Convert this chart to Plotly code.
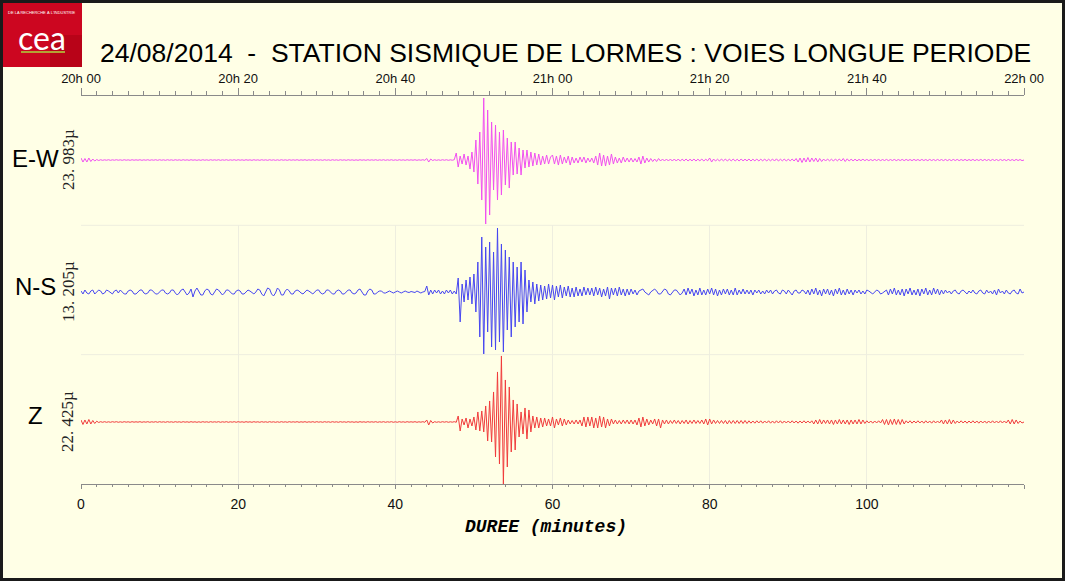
import numpy as np
import plotly.graph_objects as go
from plotly.subplots import make_subplots

# sampling of the long-period channels, in minutes after 20h00
SAMPLE_STEP_MIN = 0.25

# amplitudes (display units), one row = 5 minutes
ew_values = [
    2, -2, 1.5, -2, 2, -1.5, 1, -1, 0.5, -0.5, 0.3, -0.3, 0.2, -0.2, 0.3, -0.3, 0.2, -0.2, 0.3, -0.2,
    0.2, -0.3, 0.3, -0.2, 0.2, -0.3, 0.3, -0.2, 0.2, -0.2, 0.3, -0.3, 0.2, -0.2, 0.3, -0.3, 0.2, -0.2, 0.3, -0.3,
    0.3, -0.2, 0.2, -0.3, 0.3, -0.2, 0.2, -0.3, 0.3, -0.2, 0.2, -0.3, 0.3, -0.2, 0.2, -0.3, 0.3, -0.2, 0.2, -0.3,
    0.2, -0.3, 0.3, -0.2, 0.2, -0.3, 0.3, -0.2, 0.2, -0.2, 0.3, -0.3, 0.2, -0.2, 0.3, -0.3, 0.2, -0.2, 0.3, -0.3,
    0.3, -0.2, 0.2, -0.3, 0.3, -0.2, 0.2, -0.3, 0.3, -0.2, 0.2, -0.3, 0.3, -0.2, 0.2, -0.3, 0.3, -0.2, 0.2, -0.3,
    0.2, -0.3, 0.3, -0.2, 0.2, -0.3, 0.3, -0.2, 0.2, -0.2, 0.3, -0.3, 0.2, -0.2, 0.3, -0.3, 0.2, -0.2, 0.3, -0.3,
    0.3, -0.2, 0.2, -0.3, 0.3, -0.2, 0.2, -0.3, 0.3, -0.2, 0.2, -0.3, 0.3, -0.2, 0.2, -0.3, 0.3, -0.2, 0.2, -0.3,
    0.2, -0.3, 0.3, -0.2, 0.2, -0.3, 0.3, -0.2, 0.2, -0.2, 0.3, -0.3, 0.2, -0.2, 0.3, -0.3, 0.2, -0.2, 0.3, -0.3,
    0.2, -0.3, 0.3, -0.2, 0.2, -0.3, 0.3, -0.2, 0.2, -0.2, 0.3, -0.3, 0.2, -0.2, 0.3, -0.3, 1.5, -2, 1, -0.5,
    0.3, -0.3, 0.2, -0.3, 0.3, -0.2, 0.3, -0.3, 0.2, -0.2, 0.3, 7, -7, 4, -4, 6, -5, 4, -9, 8,
    -12, 20, -24, 28, -40, 62, -64, 50, -55, 38, -30, 35, -40, 28, -35, 30, -25, 22, -28, 18,
    -15, 18, -14, 12, -15, 10, -8, 10, -7, 8, -6, 7, -5, 6, -5, 4, -4, 5, -4, 3,
    5, -4, 4, -5, 5, -4, 3, -3, 4, -5, 3, -3, 2, -3, 3, -2, 3, -3, 2, -2,
    2, -3, 4, -5, 7, -6, 5, -6, 4, -5, 6, -4, 3, -3, 2, -3, 3, -2, 2, -2,
    2, -2, 1.5, -2, 3, -4, 4, -3, 2, -2, 1.5, -1.5, 1, -1.5, 1.5, -1, 1, -1, 1, -1,
    1, -1, 1, -1, 1, -1, 0.8, -0.8, 1, -1, 0.8, -0.8, 1, -1, 0.8, -0.8, 1, -1, 0.8, -0.8,
    2, -2, 1, -1, 0.8, -1, 1, -0.8, 1, -1, 0.8, -0.8, 1, -1, 0.8, -1, 1, -0.8, 0.8, -0.8,
    1, -1, 0.8, -0.8, 1, -1, 0.8, -0.8, 1, -1, 0.8, -0.8, 1, -1, 1.2, -1, 0.8, -0.8, 1, -1,
    0.8, -0.8, 1, -1, 1.5, -2, 2, -2.5, 2, -2, 2.5, -2, 2, -1.5, 2, -2, 1.5, -1.5, 1, -1,
    1, -0.8, 0.8, -1, 1, -0.8, 1, -1, 1.5, -1.5, 1.2, -1, 0.8, -0.8, 0.8, -0.8, 0.6, -0.6, 0.8, -0.6,
    0.6, -0.6, 0.5, -0.6, 0.6, -0.5, 0.6, -0.6, 0.5, -0.5, 0.6, -0.6, 0.5, -0.5, 0.6, -0.6, 0.5, -0.5, 0.6, -0.6,
    0.6, -0.5, 0.5, -0.6, 0.6, -0.5, 0.5, -0.6, 0.6, -0.5, 0.5, -0.6, 0.6, -0.5, 0.5, -0.6, 0.6, -0.5, 0.5, -0.6,
    0.6, -0.6, 0.5, -0.6, 0.6, -0.5, 0.6, -0.6, 0.5, -0.5, 0.6, -0.6, 0.5, -0.5, 0.6, -0.6, 0.5, -0.5, 0.6, -0.6,
    0.6, -0.5, 0.5, -0.6, 0.6, -0.5, 0.5, -0.6, 0.6, -0.5, 0.5, -0.6, 0.6, -0.5, 0.5, -0.6, 0.6, -0.5, 0.5, -0.6,
    0,
]

ns_values = [
    1, -2, 2, -1, -2, 1, 2, -2, 0, 2, 1, -2, -1, 2, 1, -1, -2, 1, 2, -1,
    2, 0, -2, -2, 1, 2, 1, -2, -2, 0, 2, 2, -1, -2, -1, 2, 2, 0, -2, -2,
    0, 2, 2, -1, -2, -1, 2, 2, -1, -3, -1, 2, 3, 0, -3, -1, 3, -5, 1, 4,
    1, -3, -3, 1, 3, 2, -2, -3, 0, 3, 2, -1, -3, -1, 2, 2, 0, -2, -2, 1,
    2, 1, -2, -2, 0, 2, 1, -1, -2, 0, 3, 2, -2, -4, 0, 4, 3, -2, -4, -1,
    4, 2, -3, -3, 1, 3, 1, -2, -2, 1, 2, 1, -1, -2, 0, 2, 1, -1, -2, 0,
    2, 2, -1, -2, -1, 2, 2, 0, -2, -2, 1, 2, 1, -2, -2, 0, 2, 2, -1, -2,
    -1, 2, 3, 0, -3, -3, 1, 3, 2, -2, -2, 0, 1, 1, -1, -1, 0, 1, 0, -1,
    0, 1, 0, -1, 0, 1, 0, -0.5, 0.5, 0, -0.5, 1, 0, -1, 0, 0.5, 6, -3, 2, -2,
    2, -1, 2, -2, 1, -2, 2, -1, 2, -2, 1, -2, 14, -30, 8, -10, 12, -8, 15, -12,
    18, -20, 30, -45, 55, -62, 45, -40, 50, -55, 40, -58, 64, -50, 48, -60, 42, -38, 35, -45,
    30, -35, 25, -30, 30, -32, 22, -20, 12, -10, 10, -12, 8, -9, 7, -8, 6, -7, 8, -6,
    7, -8, 6, -5, 7, -6, 5, -4, 6, -5, 4, -5, 5, -4, 3, -4, 5, -3, 4, -3,
    4, -4, 5, -3, 4, -5, 3, -4, 5, -7, 4, -3, 4, -4, 5, -3, 3, -4, 3, -3,
    3, -2, 2, -3, 1, 2, 3, 0, -2, -3, 0, 2, 3, 1, -2, -2, 1, 3, 2, -2,
    -3, 0, 2, 2, -1, -3, -1, 3, -3, 4, -2, 3, -4, 2, -3, 4, -3, 2, -3, 3,
    -2, 4, -3, 3, -4, 2, -3, 3, -2, 3, -3, 2, -3, 4, -3, 2, -2, 3, -2, 2,
    -2, 2, -3, 2, -1, 2, -2, 1, -2, 2, -1, 2, -2, 1, 2, -1, -2, 2, 1, -2,
    2, -1, -3, 1, 2, -1, -1, 2, 1, -2, 2, -3, 3, -2, 4, -3, 2, -4, 3, -2,
    3, -3, 2, -4, 3, -2, 4, -3, 2, -3, 3, -2, 2, -3, 2, -1, 2, -2, 1, -2,
    2, 1, -1, -2, 0, 2, 1, -2, -1, 1, 2, -3, 3, -2, 4, -3, 2, -3, 3, -4,
    3, -2, 4, -3, 2, -3, 3, -4, 3, -2, 4, -3, 2, -3, 4, -2, 3, -3, 2, -2,
    2, -1, 1, -2, 1, 2, -1, -2, 1, 2, 0, -2, 1, -1, 2, -1, -2, 1, 2, -1,
    -2, 2, -1, 1, -2, 2, -3, 3, -1, 1, -2, 2, -1, -2, 1, 2, -1, -2, 3, -1,
    0,
]

z_values = [
    2, -2.5, 2, -2, 2.5, -2, 1.5, -1.5, 0.8, -0.5, 0.3, -0.3, 0.3, -0.3, 0.2, -0.3, 0.3, -0.2, 0.3, -0.3,
    0.2, -0.3, 0.3, -0.2, 0.2, -0.3, 0.3, -0.2, 0.2, -0.2, 0.3, -0.3, 0.2, -0.2, 0.3, -0.3, 0.2, -0.2, 0.3, -0.3,
    0.3, -0.2, 0.2, -0.3, 0.3, -0.2, 0.2, -0.3, 0.3, -0.2, 0.2, -0.3, 0.3, -0.2, 0.2, -0.3, 0.3, -0.2, 0.2, -0.3,
    0.2, -0.3, 0.3, -0.2, 0.2, -0.3, 0.3, -0.2, 0.2, -0.2, 0.3, -0.3, 0.2, -0.2, 0.3, -0.3, 0.2, -0.2, 0.3, -0.3,
    0.3, -0.2, 0.2, -0.3, 0.3, -0.2, 0.2, -0.3, 0.3, -0.2, 0.2, -0.3, 0.3, -0.2, 0.2, -0.3, 0.3, -0.2, 0.2, -0.3,
    0.2, -0.3, 0.3, -0.2, 0.2, -0.3, 0.3, -0.2, 0.2, -0.2, 0.3, -0.3, 0.2, -0.2, 0.3, -0.3, 0.2, -0.2, 0.3, -0.3,
    0.3, -0.2, 0.2, -0.3, 0.3, -0.2, 0.2, -0.3, 0.3, -0.2, 0.2, -0.3, 0.3, -0.2, 0.2, -0.3, 0.3, -0.2, 0.2, -0.3,
    0.2, -0.3, 0.3, -0.2, 0.2, -0.3, 0.3, -0.2, 0.2, -0.2, 0.3, -0.3, 0.2, -0.2, 0.3, -0.3, 0.2, -0.2, 0.3, -0.3,
    0.2, -0.3, 0.3, -0.2, 0.2, -0.3, 0.3, -0.2, 0.2, -0.2, 0.3, -0.3, 0.2, -0.2, 0.3, -0.3, 2, -3, 1.5, -1,
    0.3, -0.3, 0.2, -0.3, 0.3, -0.2, 0.3, -0.3, 0.2, -0.2, 0.3, -0.3, 6, -9, 3, -3, 4, -6, 3, -4,
    5, -8, 10, -9, 11, -10, 16, -19, 21, -20, 30, -35, 50, -42, 66, -62, 42, -45, 35, -30,
    22, -28, 18, -15, 10, -12, 14, -17, 12, -10, 6, -6, 5, -6, 4, -5, 4, -4, 3, -4,
    5, -6, 3, -3, 4, -4, 3, -3, 2, -2, 1.5, -2, 2, -2, 2, -4, 5, -5, 5, -4,
    5, -6, 4, -6, 6, -5, 5, -6, 3, -4, 3, -2, 2, -2, 1.5, -2, 2, -1.5, 2, -2,
    2, -2, 2, -3, 4, -5, 5, -4, 3, -3, 2, -2, 3, -4, 3, -6, 2, -2, 2, -2,
    1.5, -1.5, 2, -1.5, 1.5, -2, 1.5, -1.5, 2, -2, 1.5, -1.5, 2, -1.5, 1.5, -1.5, 2, -2, 3, -3,
    3, -2, 2, -1.5, 1.5, -1.5, 1.5, -1.5, 1.5, -2, 1.5, -1.5, 1.5, -1.5, 1.5, -1.5, 1.5, -1.5, 1.5, -1.5,
    1.2, -1.2, 1, -1.2, 1.2, -1, 1.2, -1.2, 1, -1, 1.2, -1.2, 1, -1.2, 1.2, -1, 1.2, -1.2, 1, -1,
    1, -1, 1.2, -1, 1, -1.2, 1, -1, 1.2, -1, 1, -1, 1.2, -2, 2, -2, 2.5, -2, 2, -1.5,
    2, -2, 2, -2.5, 2, -2, 2.5, -2, 2, -2, 2, -2.5, 2, -2, 2, -2, 2.5, -2, 2, -1.5,
    1.2, -1, 1, -1.2, 1, -1, 1.2, -1, 2.5, -2.5, 2.5, -3, 2.5, -2.5, 3, -2.5, 2.5, -2.5, 2.5, -2,
    1.2, -1, 1.2, -1.2, 1, -1, 1.2, -1, 1, -1.2, 1.2, -1, 1, -1.2, 1.2, -1, 1, -1, 2, -2,
    2, -2, 2.5, -2, 2, -1.5, 1, -1, 1.2, -1, 1, -1.2, 1, -1, 1.2, -1, 1, -1.2, 1, -1,
    1, -1.2, 1, -1, 1.2, -1, 1, -1, 1.2, -1, 1, -1, 2, -2, 2.5, -2, 2, -1.5, 1, -1,
    0,
]

channels = ["E-W", "N-S", "Z"]
scale_labels = ["23. 983µ", "13. 205µ", "22. 425µ"]
duration_ticks = [0, 20, 40, 60, 80, 100, 120]
duration_text = ["0", "20", "40", "60", "80", "100", ""]
clock_text = ["20h 00", "20h 20", "20h 40", "21h 00", "21h 20", "21h 40", "22h 00"]

W, H = 1065, 581
L, R, T, B = 81, 1024, 96, 484  # plot area in pixels
BG = "#FFFFE6"
GRID = "#EEEEDF"
AXIS = "#8A8A8A"


def px(x):
    return (x - L) / (R - L)


def py(y):
    return (B - y) / (B - T)


def note(text, x, y, size, family="Liberation Sans", color="#000", **kw):
    return dict(text=text, xref="paper", yref="paper", x=px(x), y=py(y),
                xanchor="center", yanchor="middle", showarrow=False,
                font=dict(family=family, size=size, color=color), **kw)


time_min = np.arange(len(ew_values)) * SAMPLE_STEP_MIN

fig = make_subplots(rows=3, cols=1, shared_xaxes=True, vertical_spacing=0)

colors = ["#F050F0", "#4646F0", "#F03C3C"]
series = [ew_values, ns_values, z_values]
for i, (vals, col) in enumerate(zip(series, colors)):
    tr = go.Scatter(x=time_min, y=vals, mode="lines", line=dict(color=col, width=1),
                    hoverinfo="skip", showlegend=False)
    if i == 0:
        # top panel sits on the clock axis drawn above the plot
        tr.update(xaxis="x4", yaxis="y")
        fig.add_trace(tr)
    else:
        fig.add_trace(tr, row=i + 1, col=1)

# y ranges keep the baselines where the record has them
y_ranges = [[-65.3, 64], [-62.7, 66.7], [-62, 67.3]]
for i, rng in enumerate(y_ranges):
    fig.update_yaxes(range=rng, visible=False, fixedrange=True, row=i + 1, col=1)

for i in range(3):
    fig.update_xaxes(range=[0, 120], showgrid=True, gridcolor=GRID, gridwidth=1,
                     tickmode="array", tickvals=duration_ticks, zeroline=False,
                     fixedrange=True, row=i + 1, col=1)

fig.update_xaxes(
    ticktext=duration_text, showticklabels=True, ticks="outside", ticklen=4,
    tickcolor=AXIS, showline=True, linecolor=AXIS, linewidth=1,
    tickfont=dict(family="Liberation Sans", size=14, color="#111"),
    ticklabelstandoff=3,
    minor=dict(dtick=2, tick0=0, ticks="outside", ticklen=2, tickcolor=AXIS, showgrid=False),
    row=3, col=1,
)

fig.update_layout(
    xaxis4=dict(
        overlaying="x", side="top", anchor="y", range=[0, 120], showgrid=False,
        zeroline=False, tickmode="array", tickvals=duration_ticks, ticktext=clock_text,
        ticks="outside", ticklen=7, tickcolor=AXIS, showline=True, linecolor=AXIS,
        tickfont=dict(family="Liberation Sans", size=13, color="#111"),
        minor=dict(dtick=2, tick0=0, ticks="outside", ticklen=4, tickcolor=AXIS),
        fixedrange=True,
    ),
    width=W, height=H,
    margin=dict(l=L, r=W - R, t=T, b=H - B, pad=0),
    paper_bgcolor=BG, plot_bgcolor=BG,
    showlegend=False,
)

annotations = []
label_shift = [2, 6, 6]
for i, (name, scale) in enumerate(zip(channels, scale_labels)):
    yref = "y" if i == 0 else f"y{i + 1}"
    annotations.append(dict(text=name, xref="paper", yref=yref, x=px(35), y=0,
                            xanchor="center", yanchor="middle",
                            yshift=label_shift[i], showarrow=False,
                            font=dict(family="Liberation Sans", size=24, color="#000")))
    annotations.append(dict(text=scale, xref="paper", yref=yref, x=px(68), y=0,
                            xanchor="center", yanchor="middle",
                            textangle=-90, showarrow=False,
                            font=dict(family="Liberation Serif", size=17, color="#222")))

annotations += [
    note("24/08/2014\u00a0\u00a0-\u00a0\u00a0STATION SISMIQUE DE LORMES : VOIES LONGUE PERIODE",
         565, 53, 26.5),
    note("<b><i>DUREE (minutes)</i></b>", 546, 527, 18, family="Liberation Mono"),
    # CEA logo
    note("cea", 42, 37, 32, family="Lato", color="#FFFFFF"),
    note("DE LA RECHERCHE À L'INDUSTRIE", 42, 12, 4, color="#FFFFFF"),
]

shapes = [
    # panel separators
    dict(type="line", xref="paper", yref="paper", x0=0, x1=1, y0=1 / 3, y1=1 / 3,
         line=dict(color=GRID, width=1), layer="below"),
    dict(type="line", xref="paper", yref="paper", x0=0, x1=1, y0=2 / 3, y1=2 / 3,
         line=dict(color=GRID, width=1), layer="below"),
    # logo block
    dict(type="rect", xref="paper", yref="paper", x0=px(3), x1=px(82), y0=py(67), y1=py(3),
         fillcolor="#CC0620", line=dict(width=0), layer="below"),
    dict(type="rect", xref="paper", yref="paper", x0=px(50), x1=px(82), y0=py(67), y1=py(35),
         fillcolor="#A0000F", opacity=0.45, line=dict(width=0), layer="below"),
    dict(type="line", xref="paper", yref="paper", x0=px(21), x1=px(65), y0=py(52), y1=py(52),
         line=dict(color="#B4A234", width=2)),
    # frame round the whole picture
    dict(type="rect", xref="paper", yref="paper", x0=px(1.5), x1=px(W - 1.5),
         y0=py(H - 1.5), y1=py(1.5), line=dict(color="#1A1A1A", width=3)),
]

fig.update_layout(annotations=annotations, shapes=shapes)

# the page's default body margin would push the figure off the window
fig.write_html("out.html", config={"displayModeBar": False},
               post_script="document.body.style.margin='0';")
